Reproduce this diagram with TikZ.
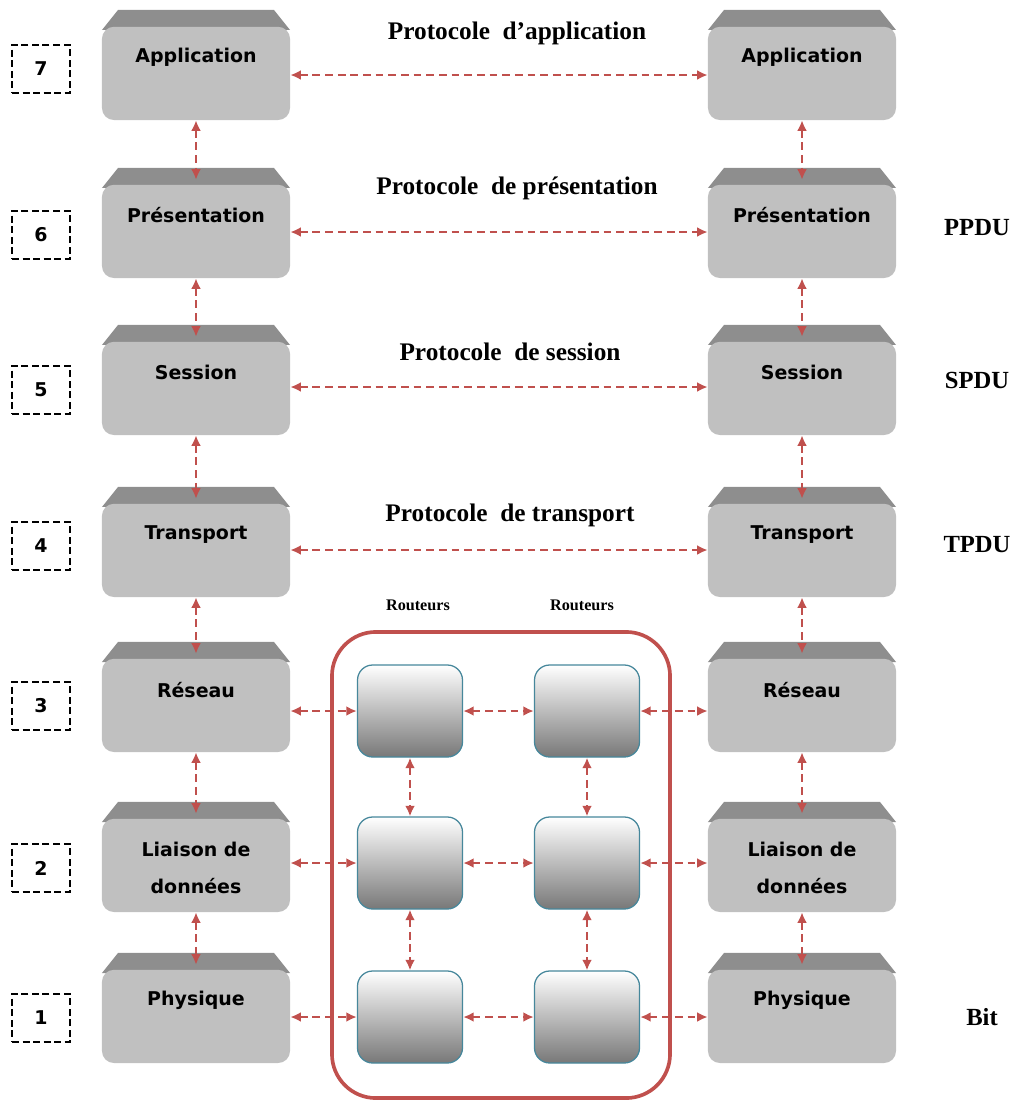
\documentclass[tikz,border=0pt]{standalone}
\usepackage{fontspec}
\setmainfont{Liberation Serif}
\setsansfont{DejaVu Sans}
\usetikzlibrary{arrows.meta}
\definecolor{arrowred}{RGB}{192,80,77}
\definecolor{bodygray}{RGB}{192,192,192}
\definecolor{bandgray}{RGB}{142,142,142}
\definecolor{routerteal}{RGB}{70,135,155}
\definecolor{routergray}{RGB}{120,120,120}
\tikzset{
  layer/.style={rectangle, minimum width=4.7cm, minimum height=2.75cm, inner sep=0pt, fill=white,
    path picture={
      \fill[bandgray] ([xshift=4mm]path picture bounding box.north west) -- ([xshift=-4mm]path picture bounding box.north east)
        -- ([yshift=-5mm]path picture bounding box.north east) -- ([yshift=-5mm]path picture bounding box.north west) -- cycle;
      \fill[bodygray, rounded corners=3mm] ([yshift=-4.2mm]path picture bounding box.north west) -- (path picture bounding box.south west)
        -- (path picture bounding box.south east) -- ([yshift=-4.2mm]path picture bounding box.north east) -- cycle;
    }},
  lname/.style={font=\sffamily\bfseries\fontsize{13.5}{26}\selectfont, align=center, inner sep=0pt},
  numbox/.style={draw, dash pattern=on 5pt off 2.5pt, line width=1pt, minimum width=1.45cm, minimum height=1.2cm,
    font=\sffamily\bfseries\fontsize{13.5}{15}\selectfont},
  router/.style={rectangle, rounded corners=3.8mm, minimum width=2.625cm, minimum height=2.3cm, draw=routerteal,
    line width=0.9pt, top color=white, bottom color=routergray},
  zone/.style={rectangle, rounded corners=11mm, minimum width=8.45cm, minimum height=11.65cm, draw=arrowred, line width=2.6pt},
  proto/.style={font=\bfseries\fontsize{18}{20}\selectfont, inner sep=1pt},
  pdu/.style={font=\bfseries\fontsize{17.5}{20}\selectfont, inner sep=1pt},
  rname/.style={font=\bfseries\fontsize{11.5}{13}\selectfont, inner sep=1pt},
  link/.style={draw=arrowred, line width=1.6pt, dash pattern=on 5.5pt off 3.5pt,
    {Latex[length=7.5pt,width=7pt]}-{Latex[length=7.5pt,width=7pt]}}
}
\begin{document}
\begin{tikzpicture}[x=0.025cm,y=-0.025cm]
\useasboundingbox (0,0) rectangle (1015,1100);

% couches de gauche
\node[layer] (L7) at (196,65) {};
\node[layer] (L6) at (196,223) {};
\node[layer] (L5) at (196,380) {};
\node[layer] (L4) at (196,542) {};
\node[layer] (L3) at (196,697) {};
\node[layer] (L2) at (196,857) {};
\node[layer] (L1) at (196,1008) {};

% couches de droite
\node[layer] (R7) at (802,65) {};
\node[layer] (R6) at (802,223) {};
\node[layer] (R5) at (802,380) {};
\node[layer] (R4) at (802,542) {};
\node[layer] (R3) at (802,697) {};
\node[layer] (R2) at (802,857) {};
\node[layer] (R1) at (802,1008) {};

\node[lname] (tL7) at ([yshift=2mm]L7.center) {Application};
\node[lname] (tL6) at ([yshift=2mm]L6.center) {Présentation};
\node[lname] (tL5) at ([yshift=2mm]L5.center) {Session};
\node[lname] (tL4) at ([yshift=1.75mm]L4.center) {Transport};
\node[lname] (tL3) at ([yshift=1.75mm]L3.center) {Réseau};
\node[lname] (tL2) at ([yshift=-2.75mm]L2.center) {Liaison de\\données};
\node[lname] (tL1) at ([yshift=2mm]L1.center) {Physique};

\node[lname] (tR7) at ([yshift=2mm]R7.center) {Application};
\node[lname] (tR6) at ([yshift=2mm]R6.center) {Présentation};
\node[lname] (tR5) at ([yshift=2mm]R5.center) {Session};
\node[lname] (tR4) at ([yshift=1.75mm]R4.center) {Transport};
\node[lname] (tR3) at ([yshift=1.75mm]R3.center) {Réseau};
\node[lname] (tR2) at ([yshift=-2.75mm]R2.center) {Liaison de\\données};
\node[lname] (tR1) at ([yshift=2mm]R1.center) {Physique};

\node[numbox] (n7) at (41,69) {7};
\node[numbox] (n6) at (41,235) {6};
\node[numbox] (n5) at (41,390) {5};
\node[numbox] (n4) at (41,546) {4};
\node[numbox] (n3) at (41,706) {3};
\node[numbox] (n2) at (41,868) {2};
\node[numbox] (n1) at (41,1018) {1};

\node[proto] (p7) at (517,33) {Protocole\ \ d’application};
\node[proto] (p6) at (517,188) {Protocole\ \ de présentation};
\node[proto] (p5) at (510,352) {Protocole\ \ de session};
\node[proto] (p4) at (510,515) {Protocole\ \ de transport};

\node[pdu] (u6) at (977,228) {PPDU};
\node[pdu] (u5) at (977,380) {SPDU};
\node[pdu] (u4) at (977,545) {TPDU};
\node[pdu] (u1) at (982,1017) {Bit};

% sous-reseau des routeurs
\node[zone] (net) at (501,865) {};
\node[rname] (g1) at (418,605) {Routeurs};
\node[rname] (g2) at (582,605) {Routeurs};
\node[router] (rt11) at (410,711) {};
\node[router] (rt12) at (587,711) {};
\node[router] (rt21) at (410,863) {};
\node[router] (rt22) at (587,863) {};
\node[router] (rt31) at (410,1017) {};
\node[router] (rt32) at (587,1017) {};

\draw[link] ([yshift=-2.5mm]L7.east) -- ([yshift=-2.5mm]R7.west);
\draw[link] ([yshift=-2.25mm]L6.east) -- ([yshift=-2.25mm]R6.west);
\draw[link] ([yshift=-1.75mm]L5.east) -- ([yshift=-1.75mm]R5.west);
\draw[link] ([yshift=-2mm]L4.east) -- ([yshift=-2mm]R4.west);

\draw[link] (L7.south) -- ([yshift=-3mm]L6.north);
\draw[link] (L6.south) -- ([yshift=-3mm]L5.north);
\draw[link] (L5.south) -- ([yshift=-3mm]L4.north);
\draw[link] (L4.south) -- ([yshift=-3mm]L3.north);
\draw[link] (L3.south) -- ([yshift=-3mm]L2.north);
\draw[link] (L2.south) -- ([yshift=-3mm]L1.north);
\draw[link] (R7.south) -- ([yshift=-3mm]R6.north);
\draw[link] (R6.south) -- ([yshift=-3mm]R5.north);
\draw[link] (R5.south) -- ([yshift=-3mm]R4.north);
\draw[link] (R4.south) -- ([yshift=-3mm]R3.north);
\draw[link] (R3.south) -- ([yshift=-3mm]R2.north);
\draw[link] (R2.south) -- ([yshift=-3mm]R1.north);

\draw[link] (L3.east |- rt11.west) -- (rt11.west);
\draw[link] (L2.east |- rt21.west) -- (rt21.west);
\draw[link] (L1.east |- rt31.west) -- (rt31.west);
\draw[link] (rt11.east) -- (rt12.west);
\draw[link] (rt21.east) -- (rt22.west);
\draw[link] (rt31.east) -- (rt32.west);
\draw[link] (rt12.east) -- (R3.west |- rt12.east);
\draw[link] (rt22.east) -- (R2.west |- rt22.east);
\draw[link] (rt32.east) -- (R1.west |- rt32.east);
\draw[link] (rt11.south) -- (rt21.north);
\draw[link] (rt21.south) -- (rt31.north);
\draw[link] (rt12.south) -- (rt22.north);
\draw[link] (rt22.south) -- (rt32.north);
\end{tikzpicture}
\end{document}
